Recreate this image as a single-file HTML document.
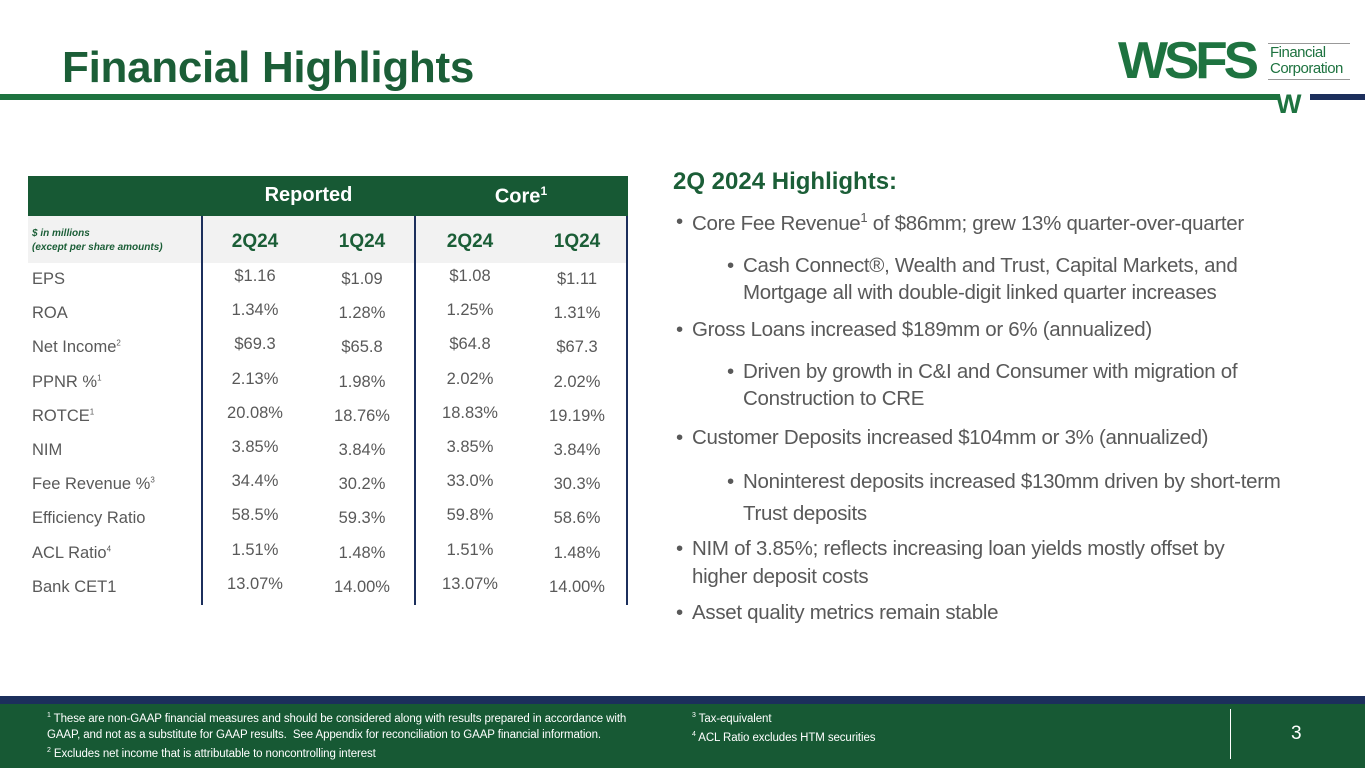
<!DOCTYPE html>
<html><head><meta charset="utf-8">
<style>
*{margin:0;padding:0;box-sizing:border-box}
body{width:1365px;height:768px;position:relative;background:#fff;font-family:"Liberation Sans",sans-serif;overflow:hidden}
.a{position:absolute;white-space:nowrap}
.title{left:62px;top:43px;font-size:44px;font-weight:bold;color:#1b5e37;letter-spacing:-0.3px}
.row{position:absolute;left:28px;width:600px;height:34px;font-size:16.5px;color:#595959}
.row span{position:absolute;top:6px}
.c{text-align:center;width:100px}
.hl{font-size:20.5px;color:#595959;letter-spacing:-0.3px}
.hl b{position:absolute;left:-16px;font-weight:normal}
.ft{font-size:11.5px;color:#fff;letter-spacing:-0.1px}
</style></head><body>
<div class="a title">Financial Highlights</div>
<div class="a" style="left:0;top:94px;width:1280px;height:6px;background:#1e7340"></div>
<div class="a" style="left:1310px;top:94px;width:55px;height:6px;background:#1c2f5c"></div>
<div class="a" style="left:1118px;top:40px;width:248px;height:76px">
  <div class="a" style="left:0;top:-9px;font-size:52px;font-weight:900;color:#1e7340;letter-spacing:-4px;transform:scaleX(1.02);transform-origin:left">WSFS</div>
  <div class="a" style="left:150px;top:3px;width:82px;height:1px;background:#999"></div>
  <div class="a" style="left:152px;top:5px;font-size:15px;line-height:16px;color:#1e7340;letter-spacing:-0.5px">Financial<br>Corporation</div>
  <div class="a" style="left:150px;top:39px;width:82px;height:1px;background:#999"></div>
  <div class="a" style="left:158px;top:49px;font-size:27px;font-weight:900;color:#1e7340">W</div>
</div>

<!-- table -->
<div class="a" style="left:28px;top:176px;width:600px;height:40px;background:#175934"></div>
<div class="a" style="left:202px;top:184px;width:213px;text-align:center;font-size:20px;font-weight:bold;color:#fff">Reported</div>
<div class="a" style="left:415px;top:184px;width:212px;text-align:center;font-size:20px;font-weight:bold;color:#fff">Core<sup style="font-size:12px">1</sup></div>
<div class="a" style="left:28px;top:216px;width:600px;height:47px;background:#f2f2f2"></div>
<div class="a" style="left:32px;top:227px;font-size:10px;font-weight:bold;font-style:italic;color:#1b5e37;line-height:14px">$ in millions<br>(except per share amounts)</div>
<div class="a" style="left:205px;top:231px;width:100px;text-align:center;font-size:19px;font-weight:bold;color:#1b5e37">2Q24</div>
<div class="a" style="left:312px;top:231px;width:100px;text-align:center;font-size:19px;font-weight:bold;color:#1b5e37">1Q24</div>
<div class="a" style="left:420px;top:231px;width:100px;text-align:center;font-size:19px;font-weight:bold;color:#1b5e37">2Q24</div>
<div class="a" style="left:527px;top:231px;width:100px;text-align:center;font-size:19px;font-weight:bold;color:#1b5e37">1Q24</div>
<div class="a" style="left:201px;top:216px;width:2px;height:389px;background:#1c2f5c"></div>
<div class="a" style="left:414px;top:216px;width:2px;height:389px;background:#1c2f5c"></div>
<div class="a" style="left:626px;top:216px;width:2px;height:389px;background:#1c2f5c"></div>
<div id="rows"></div>

<!-- highlights -->
<div class="a" style="left:673px;top:168px;font-size:24px;font-weight:bold;color:#1b5e37">2Q 2024 Highlights:</div>
<div class="a hl" style="left:692px;top:210px"><b>•</b>Core Fee Revenue<sup style="font-size:13px">1</sup> of $86mm; grew 13% quarter-over-quarter</div>
<div class="a hl" style="left:743px;top:252px;line-height:27px"><b>•</b>Cash Connect®, Wealth and Trust, Capital Markets, and<br>Mortgage all with double-digit linked quarter increases</div>
<div class="a hl" style="left:692px;top:318px"><b>•</b>Gross Loans increased $189mm or 6% (annualized)</div>
<div class="a hl" style="left:743px;top:358px;line-height:27px"><b>•</b>Driven by growth in C&amp;I and Consumer with migration of<br>Construction to CRE</div>
<div class="a hl" style="left:692px;top:426px"><b>•</b>Customer Deposits increased $104mm or 3% (annualized)</div>
<div class="a hl" style="left:743px;top:466px;line-height:32px"><b>•</b>Noninterest deposits increased $130mm driven by short-term<br>Trust deposits</div>
<div class="a hl" style="left:692px;top:535px;line-height:28px"><b>•</b>NIM of 3.85%; reflects increasing loan yields mostly offset by<br>higher deposit costs</div>
<div class="a hl" style="left:692px;top:601px"><b>•</b>Asset quality metrics remain stable</div>

<!-- footer -->
<div class="a" style="left:0;top:696px;width:1365px;height:8px;background:#1c2f5c"></div>
<div class="a" style="left:0;top:704px;width:1365px;height:64px;background:#175934"></div>
<div class="a ft" style="left:47px;top:708px;line-height:16px"><sup style="font-size:7px">1</sup> These are non-GAAP financial measures and should be considered along with results prepared in accordance with<br>GAAP, and not as a substitute for GAAP results.&nbsp; See Appendix for reconciliation to GAAP financial information.<br><sup style="font-size:7px">2</sup> Excludes net income that is attributable to noncontrolling interest</div>
<div class="a ft" style="left:692px;top:708px;line-height:16px"><sup style="font-size:7px">3</sup> Tax-equivalent<br><sup style="font-size:7px">4</sup> ACL Ratio excludes HTM securities</div>
<div class="a" style="left:1230px;top:709px;width:1px;height:50px;background:#fff"></div>
<div class="a" style="left:1291px;top:723px;font-size:19px;color:#fff">3</div>

<script>
const metrics=["EPS","ROA","Net Income","PPNR %","ROTCE","NIM","Fee Revenue %","Efficiency Ratio","ACL Ratio","Bank CET1"];
const sups=["","","2","1","1","","3","","4",""];
const reported2Q24=["$1.16","1.34%","$69.3","2.13%","20.08%","3.85%","34.4%","58.5%","1.51%","13.07%"];
const reported1Q24=["$1.09","1.28%","$65.8","1.98%","18.76%","3.84%","30.2%","59.3%","1.48%","14.00%"];
const core2Q24=["$1.08","1.25%","$64.8","2.02%","18.83%","3.85%","33.0%","59.8%","1.51%","13.07%"];
const core1Q24=["$1.11","1.31%","$67.3","2.02%","19.19%","3.84%","30.3%","58.6%","1.48%","14.00%"];
const host=document.getElementById('rows');
metrics.forEach((m,i)=>{
  const r=document.createElement('div');
  r.className='row';
  r.style.top=(263+i*34.2)+'px';
  
  
  const cells=[[m+(sups[i]?'<sup style="font-size:8px">'+sups[i]+'</sup>':''),4,false,7],[reported2Q24[i],177,true,4],[reported1Q24[i],284,true,7],[core2Q24[i],392,true,4],[core1Q24[i],499,true,7]];
  cells.forEach(c=>{
    const s=document.createElement('span');
    s.innerHTML=c[0];
    s.style.left=c[1]+'px';
    s.style.top=c[3]+'px';
    if(c[2])s.className='c';
    r.appendChild(s);
  });
  host.appendChild(r);
});
</script>
</body></html>
